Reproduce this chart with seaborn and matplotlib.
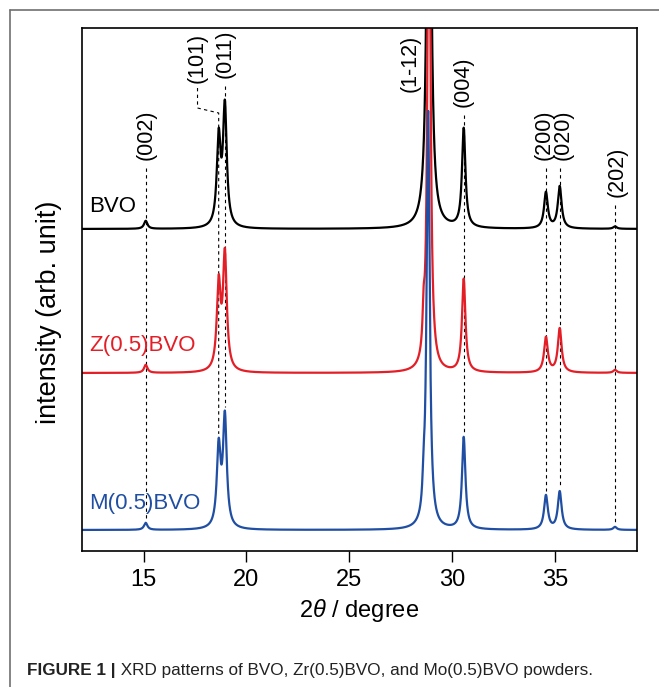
import numpy as np
import pandas as pd
import matplotlib
matplotlib.use('Agg')
import matplotlib.pyplot as plt
from matplotlib.lines import Line2D
import seaborn as sns

sns.set_style('ticks')
plt.rcParams['font.family'] = ['Liberation Sans', 'DejaVu Sans']
plt.rcParams['mathtext.fontset'] = 'custom'
plt.rcParams['mathtext.it'] = 'Liberation Sans:italic'
plt.rcParams['mathtext.rm'] = 'Liberation Sans'
plt.rcParams['text.color'] = 'black'
plt.rcParams['axes.labelcolor'] = 'black'
plt.rcParams['xtick.color'] = 'black'

# reflections (the last entry is an unlabelled shoulder of (1-12))
hkl_labels = ['(002)', '(101)', '(011)', '(1-12)', '(004)', '(200)', '(020)', '(202)']
peak_pos = [15.10, 18.65, 18.95, 28.88, 30.57, 34.57, 35.24, 37.93, 28.62]
peak_hwhm = [0.10, 0.11, 0.11, 0.09, 0.10, 0.11, 0.11, 0.10, 0.06]

# peak intensities (arb. unit)
bvo_amp = [8, 87, 119, 650, 99, 36, 42, 2.5, 0]
zbvo_amp = [8, 85, 115, 600, 93, 35, 44, 3, 35]
mbvo_amp = [7, 79, 110, 417, 92, 34, 38, 3, 25]

# vertical offsets of the stacked patterns
offsets = {'BVO': 301, 'Z(0.5)BVO': 157, 'M(0.5)BVO': 0}
colors = {'BVO': 'black', 'Z(0.5)BVO': '#e41e26', 'M(0.5)BVO': '#1f4ea3'}
samples = ['BVO', 'Z(0.5)BVO', 'M(0.5)BVO']
amps = {'BVO': bvo_amp, 'Z(0.5)BVO': zbvo_amp, 'M(0.5)BVO': mbvo_amp}
main_width = {'BVO': 0.10, 'Z(0.5)BVO': 0.08, 'M(0.5)BVO': 0.09}
main_shift = {'BVO': 0.0, 'Z(0.5)BVO': 0.0, 'M(0.5)BVO': -0.04}

two_theta = np.linspace(12, 39, 5401)


def pattern(s):
    y = np.zeros_like(two_theta)
    for i, (p, w, a) in enumerate(zip(peak_pos, peak_hwhm, amps[s])):
        if i == 3:
            p, w = p + main_shift[s], main_width[s]
        y += a * w ** 2 / ((two_theta - p) ** 2 + w ** 2)
    return y


frames = []
for s in samples:
    frames.append(pd.DataFrame({'two_theta': two_theta,
                                'intensity': pattern(s) + offsets[s],
                                'sample': s}))
df = pd.concat(frames, ignore_index=True)

fig = plt.figure(figsize=(6.59, 6.87), dpi=100)
ax = fig.add_axes([82 / 659, 136 / 687, 555 / 659, 523 / 687])

sns.lineplot(data=df, x='two_theta', y='intensity', hue='sample', hue_order=samples,
             palette=colors, estimator=None, sort=False, legend=False, lw=1.6, ax=ax)

ax.set_xlim(12, 39)
ax.set_ylim(-21, 502)
ax.set_yticks([])
ax.set_xticks([15, 20, 25, 30, 35])
ax.tick_params(axis='x', direction='out', length=8, width=1, labelsize=17, pad=5)
for sp in ax.spines.values():
    sp.set_visible(True)
    sp.set_color('black')
    sp.set_linewidth(1.2)
ax.set_xlabel('2$\\mathit{\\theta}$ / degree', fontsize=17)
ax.set_ylabel('intensity (arb. unit)', fontsize=19.5)
ax.xaxis.set_label_coords(0.5, -0.088)
ax.yaxis.set_label_coords(-0.036, 0.457)

# hkl labels and guide lines
label_x = [15.10, 17.62, 18.98, 27.97, 30.52, 34.46, 35.40, 38.05]
label_y = [370, 447, 452, 438, 423, 370, 370, 333]
m_curve = pattern('M(0.5)BVO')
dash = dict(color='black', lw=0.8, ls=(0, (3, 3)), zorder=1)
for i, lab in enumerate(hkl_labels):
    ax.text(label_x[i], label_y[i], lab, rotation=90, ha='center', va='bottom', fontsize=15.5)
    if lab == '(1-12)':
        continue
    x0 = peak_pos[i]
    y_end = np.interp(x0, two_theta, m_curve) + 4
    if lab == '(101)':
        ax.plot([label_x[i], label_x[i], x0, x0], [442, 422, 417, y_end], **dash)
    else:
        ax.plot([x0, x0], [label_y[i] - 8, y_end], **dash)

# sample names
for s, yy in zip(samples, [323, 185, 27]):
    ax.text(12.35, yy, s, color=colors[s], fontsize=16, va='center', ha='left')

# frame of the figure panel
fig.add_artist(Line2D([10 / 659, 1], [1 - 10 / 687] * 2, color='#6f6f6f', lw=1.2))
fig.add_artist(Line2D([10 / 659] * 2, [1 - 10 / 687, 0], color='#6f6f6f', lw=1.2))

t1 = fig.text(27 / 659, 1 - 671 / 687, 'FIGURE 1 |', fontsize=12.3, weight='bold',
              color='#222222', va='center')
ax.annotate(' XRD patterns of BVO, Zr(0.5)BVO, and Mo(0.5)BVO powders.',
            xy=(1, 0.5), xycoords=t1, va='center', ha='left', fontsize=12.3,
            color='#222222', annotation_clip=False)

fig.savefig('out.png', dpi=100)
